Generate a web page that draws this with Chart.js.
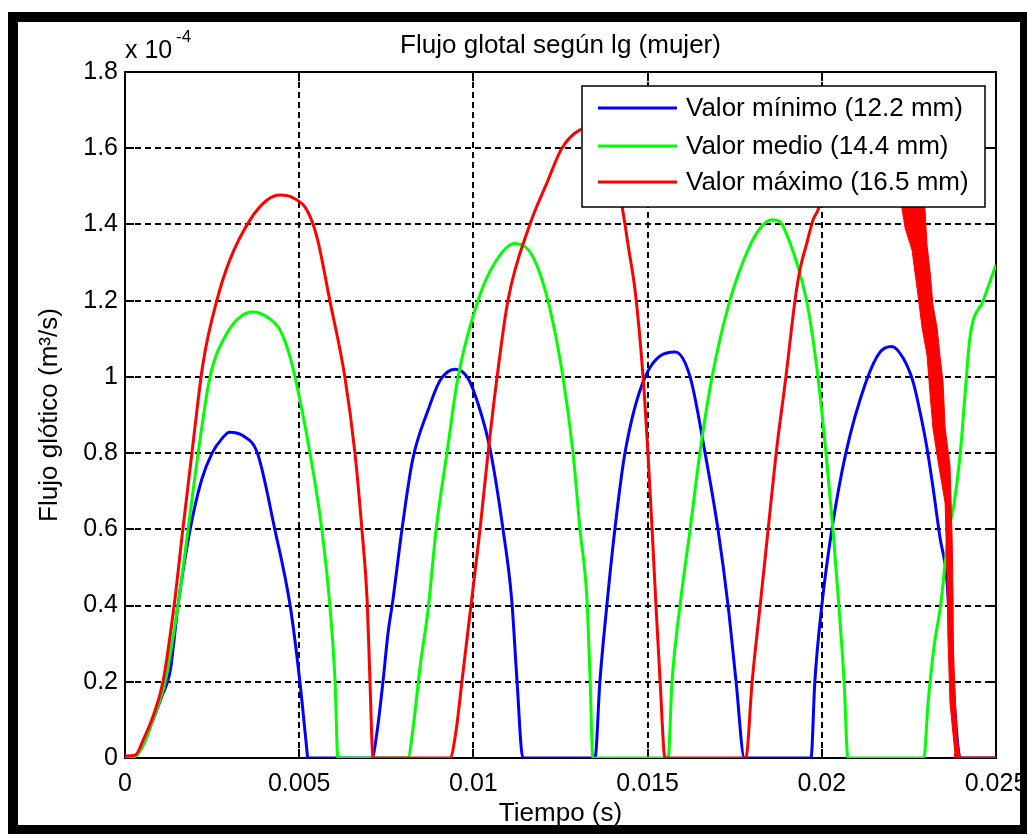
<!DOCTYPE html>
<html>
<head>
<meta charset="utf-8">
<script src="https://cdn.jsdelivr.net/npm/chart.js@4.4.1/dist/chart.umd.min.js"></script>
<style>
  html, body { margin: 0; padding: 0; background: #fff; }
  #wrap { position: relative; width: 1027px; height: 834px; overflow: hidden; }
  #grafico { position: absolute; left: 0; top: 0; }
  #marco { position: absolute; left: 8px; top: 12px; width: 1022px; height: 823px;
           box-sizing: border-box; border: 10px solid #000; pointer-events: none; }
</style>
</head>
<body>
<div id="wrap">
  <canvas id="grafico" width="1027" height="834"></canvas>
  <div id="marco"></div>
</div>
<script>
// ejes
const xTickLabels = ['0', '0.005', '0.01', '0.015', '0.02', '0.025'];
const yTickLabels = ['0', '0.2', '0.4', '0.6', '0.8', '1', '1.2', '1.4', '1.6', '1.8'];
const seriesNames = ['Valor mínimo (12.2 mm)', 'Valor medio (14.4 mm)', 'Valor máximo (16.5 mm)'];

// Valor minimo (azul)
const tMin = [0, 0.0003, 0.00055, 0.0008, 0.00105, 0.0013, 0.00152, 0.00187, 0.0022, 0.0025, 0.0028, 0.003, 0.0034, 0.0038, 0.0043, 0.00474, 0.00502, 0.0052, 0.00525,
  0.00709, 0.00723, 0.00741, 0.00755, 0.00769, 0.00795, 0.00825, 0.0087, 0.00904, 0.00947, 0.00984, 0.01019, 0.01048, 0.01085, 0.0111, 0.01125, 0.01142,
  0.01349, 0.01363, 0.01383, 0.01406, 0.01435, 0.01493, 0.01579, 0.01622, 0.01665, 0.01702, 0.01731, 0.01754, 0.01778,
  0.01969, 0.0198, 0.02, 0.02029, 0.02069, 0.02127, 0.02167, 0.02201, 0.02233, 0.02262, 0.02282, 0.02302, 0.02319, 0.02339, 0.02359, 0.02374, 0.02391, 0.02397, 0.025];
const vMin = [0, 0.005, 0.04, 0.1, 0.16, 0.23, 0.4, 0.6, 0.73, 0.8, 0.84, 0.855, 0.845, 0.8, 0.6, 0.4, 0.2, 0.04, 0,
  0, 0.066, 0.205, 0.328, 0.415, 0.6, 0.78, 0.913, 0.99, 1.02, 0.997, 0.913, 0.81, 0.6, 0.415, 0.205, 0,
  0, 0.2, 0.4, 0.6, 0.8, 1.0, 1.065, 1.0, 0.8, 0.6, 0.4, 0.2, 0,
  0, 0.2, 0.4, 0.6, 0.8, 0.987, 1.065, 1.08, 1.05, 0.987, 0.908, 0.813, 0.711, 0.58, 0.467, 0.231, 0.029, 0, 0];

// Valor medio (verde)
const tMed = [0, 0.0003, 0.00055, 0.0008, 0.00115, 0.00152, 0.00181, 0.0021, 0.00244, 0.00293, 0.0033, 0.00367, 0.00408, 0.00445, 0.00474, 0.00502, 0.00531, 0.00565, 0.00588, 0.00603, 0.00611,
  0.00812, 0.00827, 0.00847, 0.0087, 0.00893, 0.00924, 0.00956, 0.01013, 0.01062, 0.01119, 0.01168, 0.01214, 0.01257, 0.01286, 0.01306, 0.01326, 0.01335, 0.01343,
  0.01559, 0.0157, 0.01593, 0.01622, 0.0165, 0.01685, 0.01736, 0.01788, 0.01823, 0.01857, 0.0188, 0.01909, 0.01932, 0.0196, 0.01989, 0.02012, 0.02032, 0.02049, 0.02064, 0.02075,
  0.02293, 0.02305, 0.02322, 0.02342, 0.02357, 0.02365, 0.0238, 0.02397, 0.02411, 0.02425, 0.02463, 0.025];
const vMed = [0, 0.005, 0.04, 0.1, 0.2, 0.4, 0.6, 0.8, 1.0, 1.115, 1.157, 1.17, 1.157, 1.123, 1.052, 0.94, 0.8, 0.6, 0.4, 0.2, 0,
  0, 0.08, 0.24, 0.39, 0.6, 0.8, 1.0, 1.2, 1.3, 1.35, 1.32, 1.2, 1.0, 0.8, 0.6, 0.415, 0.205, 0,
  0, 0.2, 0.4, 0.6, 0.8, 1.0, 1.2, 1.333, 1.39, 1.412, 1.407, 1.351, 1.288, 1.183, 1.0, 0.8, 0.6, 0.4, 0.2, 0,
  0, 0.144, 0.291, 0.407, 0.538, 0.598, 0.669, 0.795, 0.952, 1.102, 1.2, 1.294];

// Valor maximo (rojo)
const tMax = [0, 0.0003, 0.00052, 0.0008, 0.00109, 0.00141, 0.00166, 0.00192, 0.00224, 0.00264, 0.00301, 0.00359, 0.00408, 0.00445, 0.00482, 0.00522, 0.00551, 0.00588, 0.00631, 0.0066, 0.0068, 0.00695, 0.00703, 0.00712,
  0.00933, 0.0095, 0.00967, 0.00993, 0.01019, 0.01042, 0.01068, 0.01099, 0.01162, 0.01211, 0.01254, 0.01306, 0.01349, 0.01392, 0.01427, 0.01445, 0.01465, 0.01487, 0.01501, 0.01513, 0.01524, 0.01536, 0.0155,
  0.01782, 0.018, 0.01823, 0.01846, 0.01869, 0.01897, 0.01923, 0.01937, 0.01957, 0.01975, 0.01989, 0.02038, 0.0211, 0.02167, 0.0221, 0.02262, 0.02285, 0.02305, 0.02325, 0.02336, 0.02354, 0.02362, 0.02368, 0.02377, 0.02388, 0.02391, 0.025];
const vMax = [0.005, 0.008, 0.047, 0.108, 0.2, 0.4, 0.6, 0.8, 1.036, 1.202, 1.307, 1.412, 1.464, 1.477, 1.47, 1.438, 1.367, 1.2, 1.0, 0.8, 0.6, 0.415, 0.205, 0,
  0, 0.07, 0.2, 0.4, 0.6, 0.8, 1.0, 1.2, 1.4, 1.509, 1.6, 1.648, 1.655, 1.6, 1.446, 1.34, 1.22, 1.0, 0.8, 0.6, 0.4, 0.2, 0,
  0, 0.2, 0.4, 0.6, 0.8, 1.0, 1.2, 1.28, 1.351, 1.412, 1.438, 1.595, 1.7, 1.648, 1.517, 1.443, 1.328, 1.197, 1.057, 0.952, 0.795, 0.625, 0.493, 0.231, 0.013, 0, 0];

// envolvente de la oscilacion rapida del rojo (borde izq. bajando, borde der. subiendo)
const tBanda = [0.02224, 0.0223, 0.02239, 0.02259, 0.02276, 0.02288, 0.02302, 0.02311, 0.02319, 0.02334, 0.02354, 0.02359, 0.02362, 0.02368, 0.02382, 0.02382,
  0.02397, 0.02388, 0.02379, 0.02377, 0.02374, 0.02368, 0.02354, 0.02348, 0.02339, 0.02331, 0.02319, 0.02311, 0.02302, 0.02296, 0.0229, 0.02224];
const vBanda = [1.469, 1.443, 1.391, 1.333, 1.215, 1.128, 1.057, 0.952, 0.866, 0.777, 0.669, 0.493, 0.318, 0.144, 0.013, 0,
  0, 0.055, 0.231, 0.407, 0.58, 0.766, 0.866, 0.987, 1.057, 1.128, 1.189, 1.275, 1.346, 1.443, 1.469, 1.469];

const FUENTE = '"Liberation Sans", Arial, sans-serif';

function pares(ts, vs) {
  return ts.map((t, i) => ({x: t, y: vs[i]}));
}

// caja, marcas hacia dentro, leyenda y titulo al estilo matlab
const estiloMatlab = {
  id: 'estiloMatlab',
  beforeDatasetsDraw(chart) {
    const ctx = chart.ctx;
    const a = chart.chartArea;
    const sx = chart.scales.x, sy = chart.scales.y;
    ctx.save();
    ctx.strokeStyle = '#000';
    ctx.lineWidth = 2;
    ctx.setLineDash([]);
    ctx.strokeRect(a.left, a.top, a.right - a.left, a.bottom - a.top);
    ctx.beginPath();
    sx.ticks.forEach(t => {
      const px = Math.round(sx.getPixelForValue(t.value));
      ctx.moveTo(px, a.bottom); ctx.lineTo(px, a.bottom - 9);
      ctx.moveTo(px, a.top); ctx.lineTo(px, a.top + 9);
    });
    sy.ticks.forEach(t => {
      const py = Math.round(sy.getPixelForValue(t.value));
      ctx.moveTo(a.left, py); ctx.lineTo(a.left + 9, py);
      ctx.moveTo(a.right, py); ctx.lineTo(a.right - 9, py);
    });
    ctx.stroke();
    ctx.restore();
  },
  afterDatasetsDraw(chart) {
    const ctx = chart.ctx;
    const a = chart.chartArea;
    ctx.save();
    // leyenda
    const bx = 582, by = 86, bw = 403, bh = 121;
    ctx.fillStyle = '#fff';
    ctx.fillRect(bx, by, bw, bh);
    ctx.strokeStyle = '#000';
    ctx.lineWidth = 1.5;
    ctx.strokeRect(bx, by, bw, bh);
    ctx.font = '26px ' + FUENTE;
    ctx.textBaseline = 'middle';
    ctx.textAlign = 'left';
    const filas = [108, 146, 182];
    chart.data.datasets.filter(d => seriesNames.includes(d.label)).forEach((d, i) => {
      ctx.strokeStyle = d.borderColor;
      ctx.lineWidth = 3;
      ctx.beginPath();
      ctx.moveTo(bx + 16, filas[i]);
      ctx.lineTo(bx + 95, filas[i]);
      ctx.stroke();
      ctx.fillStyle = '#000';
      ctx.fillText(d.label, bx + 104, filas[i] + 1);
    });
    // titulo
    ctx.textAlign = 'center';
    ctx.fillText('Flujo glotal según lg (mujer)', (a.left + a.right) / 2, 46);
    // exponente
    ctx.textAlign = 'left';
    ctx.font = '25px ' + FUENTE;
    ctx.fillText('x 10', a.left, 51);
    ctx.font = '17px ' + FUENTE;
    ctx.fillText('-4', a.left + 51, 37);
    ctx.restore();
  }
};

const ctx = document.getElementById('grafico').getContext('2d');
const chart = new Chart(ctx, {
  type: 'line',
  data: {
    datasets: [
      {
        label: seriesNames[0],
        data: pares(tMin, vMin),
        borderColor: '#0000ff',
        borderWidth: 3,
        pointRadius: 0,
        cubicInterpolationMode: 'monotone',
        order: 3
      },
      {
        label: seriesNames[1],
        data: pares(tMed, vMed),
        borderColor: '#00ff00',
        borderWidth: 3,
        pointRadius: 0,
        cubicInterpolationMode: 'monotone',
        order: 2
      },
      {
        label: seriesNames[2],
        data: pares(tMax, vMax),
        borderColor: '#ff0000',
        borderWidth: 3,
        pointRadius: 0,
        cubicInterpolationMode: 'monotone',
        order: 1
      },
      {
        label: 'banda',
        data: pares(tBanda, vBanda),
        borderColor: '#ff0000',
        backgroundColor: '#ff0000',
        borderWidth: 1,
        pointRadius: 0,
        tension: 0,
        fill: 'shape',
        order: 0
      }
    ]
  },
  options: {
    responsive: false,
    animation: false,
    events: [],
    layout: { padding: { left: 0, top: 72, right: 31, bottom: 0 } },
    plugins: {
      legend: { display: false },
      tooltip: { enabled: false }
    },
    scales: {
      x: {
        type: 'linear',
        min: 0,
        max: 0.025,
        afterFit: s => { s.height = 76; s.paddingLeft = 0; s.paddingRight = 0; },
        grid: { color: '#000', lineWidth: 2, drawTicks: false },
        border: { display: false, dash: [6, 4] },
        ticks: {
          stepSize: 0.005,
          padding: 11,
          maxRotation: 0,
          autoSkip: false,
          color: '#000',
          font: { family: FUENTE, size: 25 },
          callback: (v, i) => xTickLabels[i]
        },
        title: {
          display: true,
          text: 'Tiempo (s)',
          color: '#000',
          font: { family: FUENTE, size: 26 },
          padding: { top: 0, bottom: 5 }
        }
      },
      y: {
        type: 'linear',
        min: 0,
        max: 1.8,
        afterFit: s => { s.width = 125; },
        grid: { color: '#000', lineWidth: 2, drawTicks: false },
        border: { display: false, dash: [6, 4] },
        ticks: {
          stepSize: 0.2,
          padding: 7,
          color: '#000',
          font: { family: FUENTE, size: 25 },
          callback: (v, i) => yTickLabels[i]
        },
        title: {
          display: true,
          text: 'Flujo glótico (m³/s)',
          color: '#000',
          font: { family: FUENTE, size: 26 },
          padding: { top: 34, bottom: 0 }
        }
      }
    }
  },
  plugins: [estiloMatlab]
});
</script>
</body>
</html>
